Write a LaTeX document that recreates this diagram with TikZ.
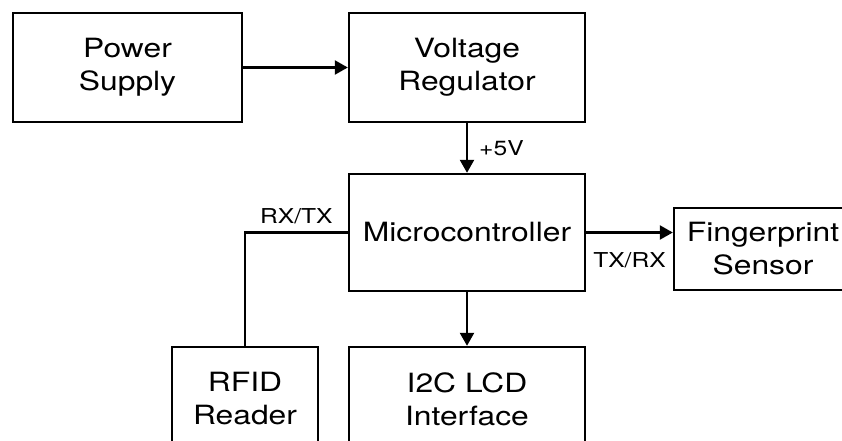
\documentclass[tikz,border=0pt]{standalone}
\usepackage{fontspec}
\setmainfont{TeX Gyre Heros}[FakeStretch=1.2]
\usetikzlibrary{arrows.meta}
\begin{document}
\begin{tikzpicture}[x=1pt,y=-1pt,
  blk/.style={draw, line width=2.4pt, align=center, font=\fontsize{26.5}{33}\selectfont, inner sep=0pt},
  lbl/.style={font=\fontsize{20.5}{24}\selectfont, inner sep=3pt},
  conn/.style={line width=2.4pt},
  arr/.style={conn, -{Triangle[length=13pt,width=14pt]}}]
\useasboundingbox (0,0) rectangle (842,441);
\node[blk, minimum width=229pt, minimum height=109pt] (ps) at (127.5,67.5) {Power\\Supply};
\node[blk, minimum width=236pt, minimum height=109pt] (vr) at (467,67.5) {Voltage\\Regulator};
\node[blk, minimum width=236pt, minimum height=117pt] (mc) at (467,232.5) {Microcontroller};
\node[blk, minimum width=178pt, minimum height=82pt] (fp) at (763,249) {Fingerprint\\Sensor};
\node[blk, minimum width=146pt, minimum height=104pt] (rfid) at (245,399) {RFID\\Reader};
\node[blk, minimum width=236pt, minimum height=104pt] (lcd) at (467,399) {I2C LCD\\Interface};
\draw[arr] (ps) -- (vr);
\draw[arr] (vr) -- node[lbl, right=8pt] {+5V} (mc);
\draw[conn] (mc.west) -| node[lbl, pos=0.25, above=4pt] {RX/TX} (rfid.north);
\draw[arr] (mc.east) -- node[lbl, below=16pt] {TX/RX} (mc.east -| fp.west);
\draw[arr] (mc) -- (lcd);
\end{tikzpicture}
\end{document}
